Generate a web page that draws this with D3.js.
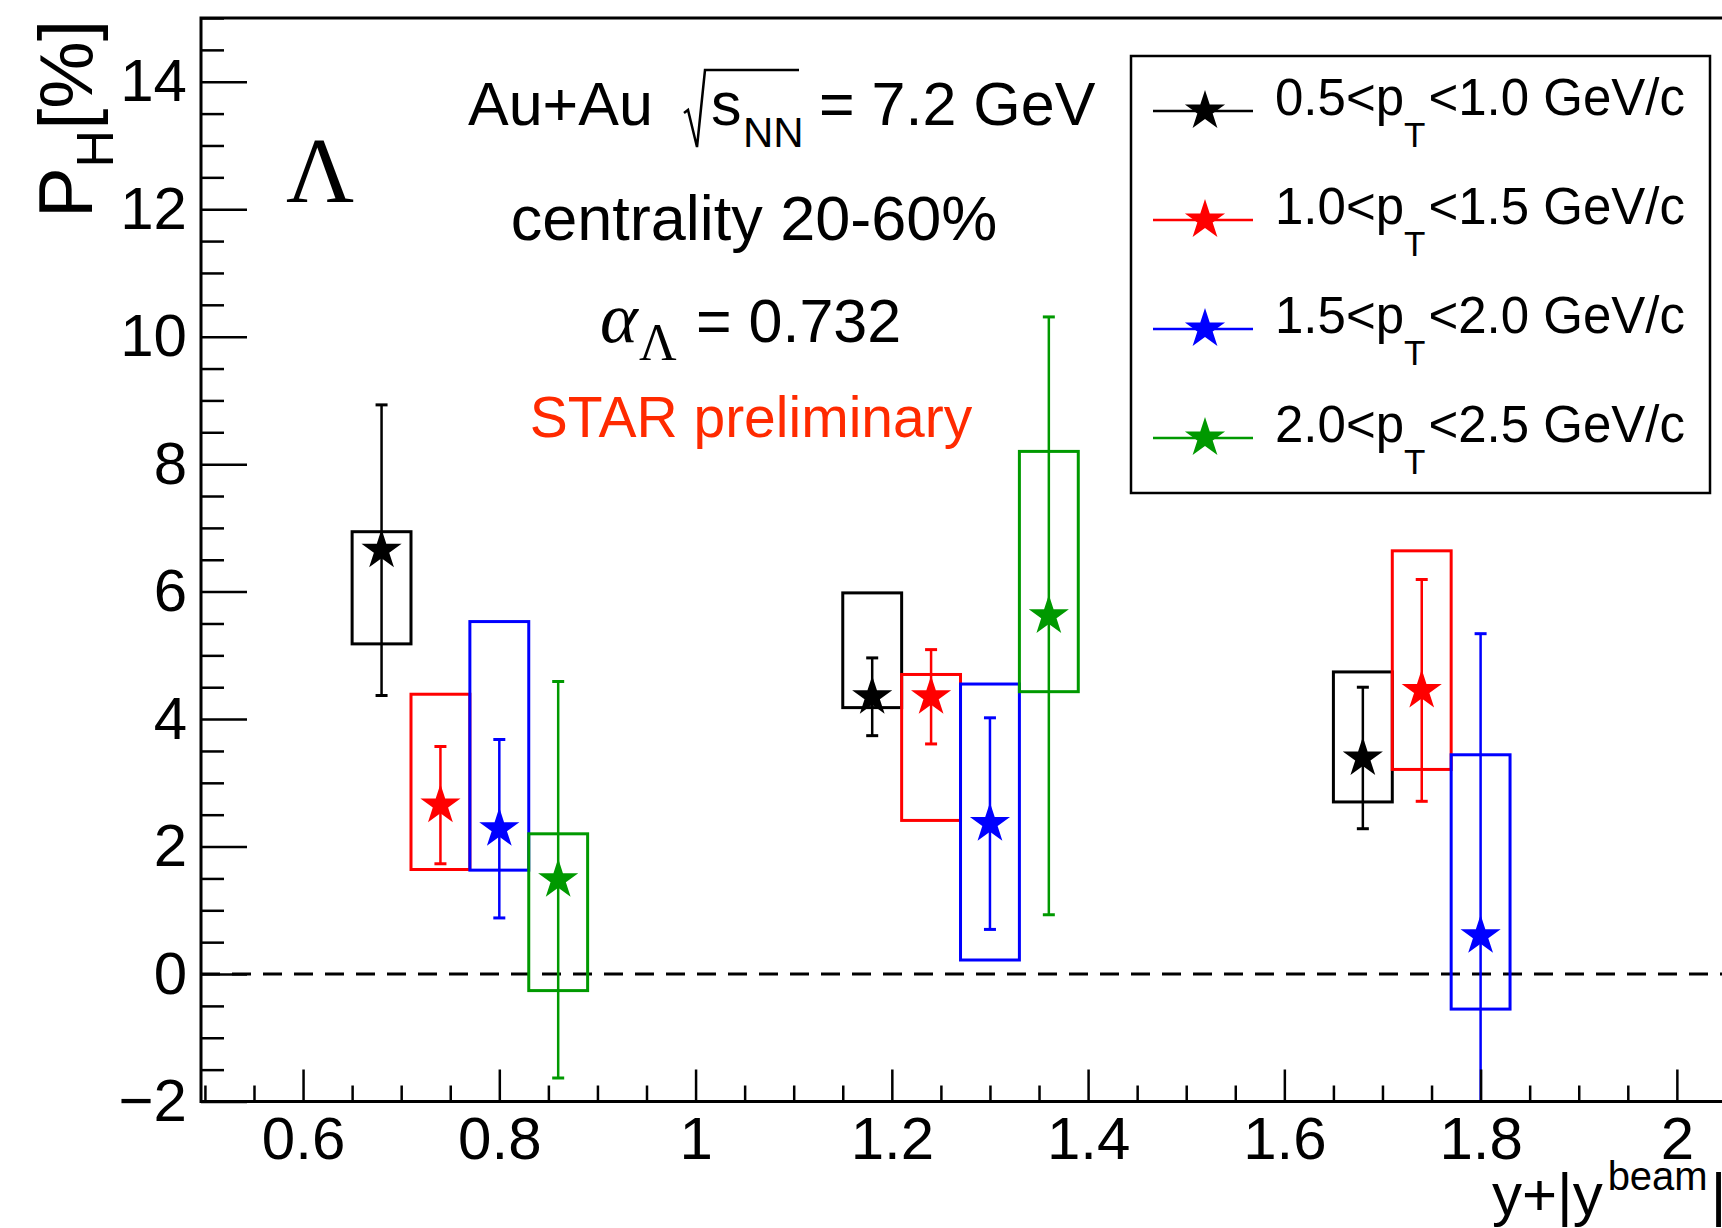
<!DOCTYPE html>
<html>
<head>
<meta charset="utf-8">
<script src="https://cdn.jsdelivr.net/npm/d3@7"></script>
<style>
  body { margin: 0; background: #fff; }
  svg { display: block; }
</style>
</head>
<body>
<svg id="chart"></svg>
<script>
// values (P_H in %)
const binNames = ["0.5<p_T<1.0", "1.0<p_T<1.5", "1.5<p_T<2.0", "2.0<p_T<2.5"];
const binColors = ["#000000", "#ff0000", "#0000ff", "#009900"];

const xBlack = [0.68, 1.18, 1.68];
const pBlack = [6.65, 4.35, 3.39];
const statBlack = [2.28, 0.61, 1.11];
const sysLoBlack = [5.18, 4.18, 2.70];
const sysHiBlack = [6.94, 5.98, 4.74];

const xRed = [0.74, 1.24, 1.74];
const pRed = [2.65, 4.35, 4.45];
const statRed = [0.92, 0.74, 1.74];
const sysLoRed = [1.64, 2.41, 3.21];
const sysHiRed = [4.39, 4.70, 6.64];

const xBlue = [0.80, 1.30, 1.80];
const pBlue = [2.28, 2.36, 0.60];
const statBlue = [1.40, 1.66, 4.74];
const sysLoBlue = [1.63, 0.22, -0.55];
const sysHiBlue = [5.53, 4.55, 3.44];

const xGreen = [0.86, 1.36];
const pGreen = [1.48, 5.62];
const statGreen = [3.11, 4.69];
const sysLoGreen = [-0.26, 4.43];
const sysHiGreen = [2.20, 8.20];

const boxHalfWidth = 0.03;

const xMajorTicks = [0.6, 0.8, 1.0, 1.2, 1.4, 1.6, 1.8, 2.0];
const yMajorTicks = [-2, 0, 2, 4, 6, 8, 10, 12, 14];

const series = [
  {x: xBlack, p: pBlack, stat: statBlack, lo: sysLoBlack, hi: sysHiBlack},
  {x: xRed, p: pRed, stat: statRed, lo: sysLoRed, hi: sysHiRed},
  {x: xBlue, p: pBlue, stat: statBlue, lo: sysLoBlue, hi: sysHiBlue},
  {x: xGreen, p: pGreen, stat: statGreen, lo: sysLoGreen, hi: sysHiGreen}
].map((s, i) => ({
  color: binColors[i],
  label: binNames[i],
  points: s.x.map((x, j) => ({x, p: s.p[j], stat: s.stat[j], lo: s.lo[j], hi: s.hi[j]}))
}));

let layout = {"width": 1722, "height": 1228,
              "left": 201, "right": 1722, "top": 18, "bottom": 1101.5};

const sans = "'Liberation Sans', Arial, Helvetica, sans-serif";
const serif = "'Liberation Serif', 'Times New Roman', serif";

const svg = d3.select("#chart")
  .attr("width", layout.width)
  .attr("height", layout.height)
  .attr("font-family", sans);

const xScale = d3.scaleLinear()
  .domain([0.496, 2.046])
  .range([layout.left, layout.right]);

const yScale = d3.scaleLinear()
  .domain([-2, 15])
  .range([layout.bottom, layout.top]);

svg.append("defs").append("clipPath").attr("id", "plotClip")
  .append("rect")
  .attr("x", layout.left).attr("y", layout.top)
  .attr("width", layout.right - layout.left)
  .attr("height", layout.bottom - layout.top);

// zero line
svg.append("line")
  .attr("x1", layout.left).attr("x2", layout.right)
  .attr("y1", yScale(0)).attr("y2", yScale(0))
  .attr("stroke", "#000").attr("stroke-width", 3)
  .attr("stroke-dasharray", "19,12");

// data
const plot = svg.append("g").attr("clip-path", "url(#plotClip)");

series.forEach(s => {
  plot.append("g").selectAll("rect")
    .data(s.points)
    .join("rect")
    .attr("x", d => xScale(d.x - boxHalfWidth))
    .attr("width", d => xScale(d.x + boxHalfWidth) - xScale(d.x - boxHalfWidth))
    .attr("y", d => yScale(d.hi))
    .attr("height", d => yScale(d.lo) - yScale(d.hi))
    .attr("fill", "none")
    .attr("stroke", s.color)
    .attr("stroke-width", 3);
});

const [yMin, yMax] = yScale.domain();
series.forEach(s => {
  const g = plot.append("g").attr("stroke", s.color).attr("stroke-width", 2.5);
  s.points.forEach(d => {
    const top = yScale(Math.min(d.p + d.stat, yMax));
    const bot = yScale(Math.max(d.p - d.stat, yMin));
    const cx = xScale(d.x);
    g.append("line").attr("x1", cx).attr("x2", cx).attr("y1", top).attr("y2", bot);
    g.append("line").attr("x1", cx - 6).attr("x2", cx + 6).attr("y1", top).attr("y2", top).attr("stroke-width", 3);
    g.append("line").attr("x1", cx - 6).attr("x2", cx + 6).attr("y1", bot).attr("y2", bot).attr("stroke-width", 3);
  });
});

const star = d3.symbol(d3.symbolStar, 500);
series.forEach(s => {
  plot.append("g").selectAll("path")
    .data(s.points)
    .join("path")
    .attr("d", star)
    .attr("transform", d => `translate(${xScale(d.x)},${yScale(d.p)})`)
    .attr("fill", s.color);
});

// axes
const yMinor = yScale.ticks(34).filter(v => !yMajorTicks.includes(v));
svg.append("g")
  .attr("transform", `translate(${layout.left},0)`)
  .call(d3.axisLeft(yScale).tickValues(yMinor).tickSize(-23).tickSizeOuter(0).tickFormat(""))
  .call(g => g.select(".domain").remove())
  .selectAll("line").attr("stroke-width", 2.5);

svg.append("g")
  .attr("transform", `translate(${layout.left},0)`)
  .call(d3.axisLeft(yScale).tickValues(yMajorTicks).tickSize(-46).tickSizeOuter(0).tickPadding(14))
  .call(g => g.select(".domain").remove())
  .call(g => g.selectAll("line").attr("stroke-width", 2.5))
  .call(g => g.selectAll("text").attr("font-size", 60).attr("font-family", sans).attr("fill", "#000"));

const xMinor = d3.range(10, 41).map(v => v / 20).filter(v => !xMajorTicks.some(m => Math.abs(m - v) < 1e-9));
svg.append("g")
  .attr("transform", `translate(0,${layout.bottom})`)
  .call(d3.axisBottom(xScale).tickValues(xMinor).tickSize(-16).tickSizeOuter(0).tickFormat(""))
  .call(g => g.select(".domain").remove())
  .selectAll("line").attr("stroke-width", 2.5);

svg.append("g")
  .attr("transform", `translate(0,${layout.bottom})`)
  .call(d3.axisBottom(xScale).tickValues(xMajorTicks).tickSize(-32).tickSizeOuter(0).tickPadding(15).tickFormat(d3.format("~g")))
  .call(g => g.select(".domain").remove())
  .call(g => g.selectAll("line").attr("stroke-width", 2.5))
  .call(g => g.selectAll("text").attr("font-size", 60).attr("font-family", sans).attr("fill", "#000"));

// frame lines
svg.append("path")
  .attr("d", `M${layout.right},${layout.top}H${layout.left}V${layout.bottom}H${layout.right}`)
  .attr("fill", "none").attr("stroke", "#000").attr("stroke-width", 3);

// axis titles
const yTitle = svg.append("text")
  .attr("transform", `translate(92,${layout.top + 2}) rotate(-90)`)
  .attr("text-anchor", "end")
  .attr("font-size", 76);
yTitle.append("tspan").text("P");
yTitle.append("tspan").attr("dy", 21).attr("font-size", 52).text("H");
yTitle.append("tspan").attr("dy", -21).text("[%]");

const xTitle = svg.append("text")
  .attr("x", 1492).attr("y", 1215)
  .attr("font-size", 60);
xTitle.append("tspan").text("y+|y");
xTitle.append("tspan").attr("dx", 5).attr("dy", -25).attr("font-size", 40).text("beam");
xTitle.append("tspan").attr("dx", 3).attr("dy", 25).text("|");

// annotations
svg.append("text")
  .attr("x", 286).attr("y", 202)
  .attr("font-family", serif).attr("font-size", 94)
  .text("Λ");

const line1 = svg.append("text").attr("y", 125).attr("font-size", 61);
line1.append("tspan").attr("x", 468).text("Au+Au");
line1.append("tspan").attr("x", 711).text("s");
line1.append("tspan").attr("x", 743).attr("y", 147).attr("font-size", 42).text("NN");
line1.append("tspan").attr("x", 819).attr("y", 125).text("= 7.2 GeV");
svg.append("path")
  .attr("d", "M684,113L688,110L697,147L705,70H799")
  .attr("fill", "none").attr("stroke", "#000").attr("stroke-width", 2.5)
  .attr("stroke-linejoin", "miter");

svg.append("text")
  .attr("x", 754).attr("y", 240)
  .attr("text-anchor", "middle").attr("font-size", 63)
  .text("centrality 20-60%");

const line3 = svg.append("text").attr("y", 342).attr("font-size", 61);
line3.append("tspan").attr("x", 600).attr("font-family", serif).attr("font-style", "italic").attr("font-size", 72).text("α");
line3.append("tspan").attr("x", 639).attr("y", 360).attr("font-family", serif).attr("font-size", 52).text("Λ");
line3.append("tspan").attr("x", 696).attr("y", 342).text("= 0.732");

svg.append("text")
  .attr("x", 751).attr("y", 437)
  .attr("text-anchor", "middle").attr("font-size", 57)
  .attr("fill", "#ff2a00")
  .text("STAR preliminary");

// legend
const legend = svg.append("g");
legend.append("rect")
  .attr("x", 1131).attr("y", 56)
  .attr("width", 579).attr("height", 437)
  .attr("fill", "#fff").attr("stroke", "#000").attr("stroke-width", 2.5);

const legendY = d3.scalePoint().domain(binNames).range([111, 438]);
series.forEach(s => {
  const cy = legendY(s.label);
  legend.append("line")
    .attr("x1", 1153).attr("x2", 1253).attr("y1", cy).attr("y2", cy)
    .attr("stroke", s.color).attr("stroke-width", 2.5);
  legend.append("path")
    .attr("d", star)
    .attr("transform", `translate(1205,${cy})`)
    .attr("fill", s.color);
  const [pre, rest] = s.label.split("_T");
  const t = legend.append("text").attr("x", 1275).attr("y", cy + 4).attr("font-size", 51);
  t.append("tspan").text(pre);
  t.append("tspan").attr("dy", 32).attr("font-size", 35).text("T");
  t.append("tspan").attr("dx", 3).attr("dy", -32).text(rest + " GeV/c");
});
</script>
</body>
</html>
